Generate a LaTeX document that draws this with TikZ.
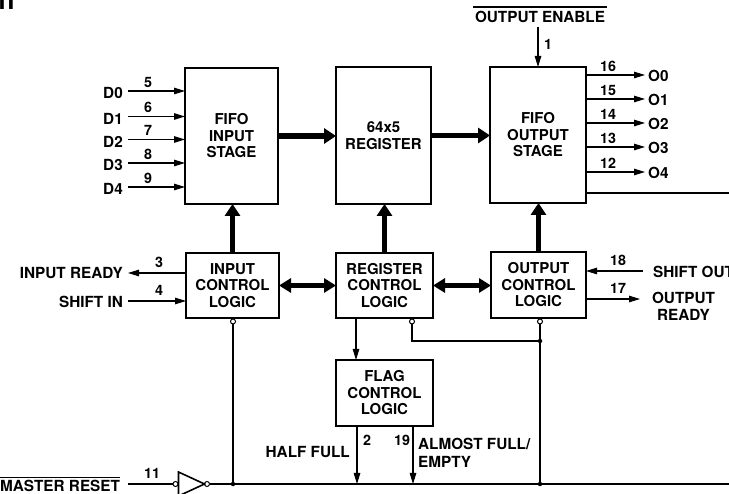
\documentclass[tikz,border=0pt]{standalone}
\usepackage{fontspec}
\setmainfont{TeX Gyre Heros}
\usetikzlibrary{arrows.meta,calc}
\begin{document}
\begin{tikzpicture}[x=1pt,y=-1pt,
  box/.style={draw, line width=2pt, inner sep=0pt, outer sep=0pt, align=center,
    font=\fontsize{15}{16.5}\selectfont\bfseries},
  txt/.style={inner sep=0pt, font=\fontsize{15.3}{16.5}\selectfont\bfseries},
  num/.style={inner sep=0pt, font=\fontsize{14.3}{15}\selectfont\bfseries},
  sig/.style={line width=1.1pt, -{Triangle[length=11pt,width=6.5pt]}},
  wire/.style={line width=1.1pt},
  fat/.style={line width=5.5pt, -{Triangle[length=12pt,width=15pt]}},
  fatboth/.style={line width=5pt, {Triangle[length=12pt,width=14pt]}-{Triangle[length=12pt,width=14pt]}},
  bub/.style={circle, draw, line width=1pt, minimum size=5pt, inner sep=0pt, outer sep=0pt},
  jdot/.style={circle, fill, minimum size=4.5pt, inner sep=0pt}
]
\useasboundingbox (0,0) rectangle (729,494);

% fragment of heading
\node[anchor=base west, inner sep=0pt, font=\fontsize{26}{26}\selectfont\bfseries] (frag) at (-1.5,10) {n};

% boxes
\node[box, minimum width=93pt, minimum height=136pt] (inS) at (231.5,136) {FIFO\\INPUT\\STAGE};
\node[box, minimum width=95pt, minimum height=137pt] (reg) at (383.5,135.5) {64x5\\REGISTER};
\node[box, minimum width=96pt, minimum height=136pt] (outS) at (538,135) {FIFO\\OUTPUT\\STAGE};
\node[box, minimum width=93pt, minimum height=65pt] (icl) at (232.5,285.5) {INPUT\\CONTROL\\LOGIC};
\node[box, minimum width=97pt, minimum height=65pt] (rcl) at (384.5,285.5) {REGISTER\\CONTROL\\LOGIC};
\node[box, minimum width=95pt, minimum height=66pt] (ocl) at (538.5,285) {OUTPUT\\CONTROL\\LOGIC};
\node[box, minimum width=97pt, minimum height=66pt] (fcl) at (384.5,393) {FLAG\\CONTROL\\LOGIC};

% fat arrows
\draw[fat] (inS.east) -- (inS.east -| reg.west);
\draw[fat] (reg.east) -- (reg.east -| outS.west);
\draw[fat] (icl.north) -- (icl.north |- inS.south);
\draw[fat] (rcl.north) -- (rcl.north |- reg.south);
\draw[fat] (ocl.north) -- (ocl.north |- outS.south);
\draw[fatboth] (icl.east) -- (icl.east -| rcl.west);
\draw[fatboth] (rcl.east) -- (rcl.east -| ocl.west);

% data inputs
\foreach \n/\t/\y/\p in {d0/D0/91/5, d1/D1/116.5/6, d2/D2/139.5/7, d3/D3/163/8, d4/D4/187/9} {
  \node[txt, anchor=east] (\n) at (123,\y+2) {\t};
  \coordinate (\n-s) at (128,\y);
  \draw[sig] (\n-s) -- (\n-s -| inS.west);
  \node[num] (\n-n) at (148,\y-9) {\p};
}

% data outputs
\foreach \n/\t/\y/\p in {o0/O0/75/16, o1/O1/99/15, o2/O2/123/14, o3/O3/147/13, o4/O4/172/12} {
  \coordinate (\n-e) at (645,\y);
  \draw[sig] (\n-e -| outS.east) -- (\n-e);
  \node[txt, anchor=west] (\n) at (648,\y+1) {\t};
  \node[num] (\n-n) at (608,\y-9) {\p};
}
\coordinate (qe) at (729,193);
\draw[wire] (qe -| outS.east) -- (qe);

% output enable
\node[txt] (oe) at (540,17) {OUTPUT ENABLE};
\draw[wire] ($(oe.north west)+(-2,-4)$) -- ($(oe.north east)+(2,-4)$);
\coordinate (oes) at (538,27);
\draw[sig] (oes) -- (oes |- outS.north);
\node[num] (oen) at (548,44) {1};

% input control signals
\node[txt, anchor=east] (ir) at (123,273) {INPUT READY};
\draw[sig] (icl.west |- ir) -- ([xshift=5pt]ir.east);
\node[num] (irn) at (159,262) {3};
\node[txt, anchor=east] (si) at (123,302) {SHIFT IN};
\coordinate (sis) at (128,301);
\draw[sig] (sis) -- (sis -| icl.west);
\node[num] (sin) at (159,290) {4};

% output control signals
\node[txt, anchor=west] (so) at (653,272) {SHIFT OUT};
\coordinate (sos) at (643,271);
\draw[sig] (sos) -- (sos -| ocl.east);
\node[num] (son) at (618,260) {18};
\node[txt] (or1) at (683.5,298) {OUTPUT};
\node[txt] (or2) at (683.5,315) {READY};
\coordinate (ore) at (640,299);
\draw[sig] (ore -| ocl.east) -- (ore);
\node[num] (orn) at (618,288) {17};

% reset rail
\coordinate (rail) at (729,484);
\node[bub] (b1) at ($(icl.south)+(0.5,3.5)$) {};
\node[bub] (b2) at ($(rcl.south east)+(-21,3.5)$) {};
\node[bub] (b3) at ($(ocl.south)+(1.5,3.5)$) {};
\node[jdot] (j1) at (b1 |- rail) {};
\node[jdot] (j2) at (b3 |- rail) {};
\node[jdot] (j3) at ($(b3.center)+(0,19.5)$) {};
\draw[wire] (b1.south) -- (j1.center);
\draw[wire] (b3.south) -- (j2.center);
\draw[wire] (b2.south) |- (j3.center);

% register control -> flag
\coordinate (rf) at ($(rcl.south west)+(20,0)$);
\draw[sig] (rf) -- (rf |- fcl.north);

% flag outputs
\coordinate (hf) at ($(fcl.south west)+(21,0)$);
\coordinate (af) at ($(fcl.south west)+(77,0)$);
\draw[sig] (hf) -- (hf |- rail);
\draw[sig] (af) -- (af |- rail);
\node[num] (hfn) at (367,440) {2};
\node[num] (afn) at (402,440) {19};
\node[txt, anchor=east] (hft) at (350,452) {HALF FULL};
\node[txt, anchor=west] (aft1) at (418,444) {ALMOST FULL/};
\node[txt, anchor=west] (aft2) at (418,462) {EMPTY};

% master reset + inverter
\node[txt, anchor=base west] (mr) at (0,492) {MASTER RESET};
\draw[wire] ($(mr.north west)+(0,-3)$) -- ($(mr.north east)+(0,-3)$);
\coordinate (mrs) at (128,484);
\node[bub] (ib) at (175.5,484) {};
\node[bub] (ob) at (207,484) {};
\coordinate (t1) at (178.5,472);
\coordinate (t2) at (204.5,484);
\coordinate (t3) at (178.5,496);
\draw[line width=1.6pt, line join=miter] (t1) -- (t2) -- (t3) -- cycle;
\draw[wire] (mrs) -- (ib.west);
\draw[wire] (ob.east) -- (rail);
\node[num] (mrn) at (152,473) {11};
\end{tikzpicture}
\end{document}
